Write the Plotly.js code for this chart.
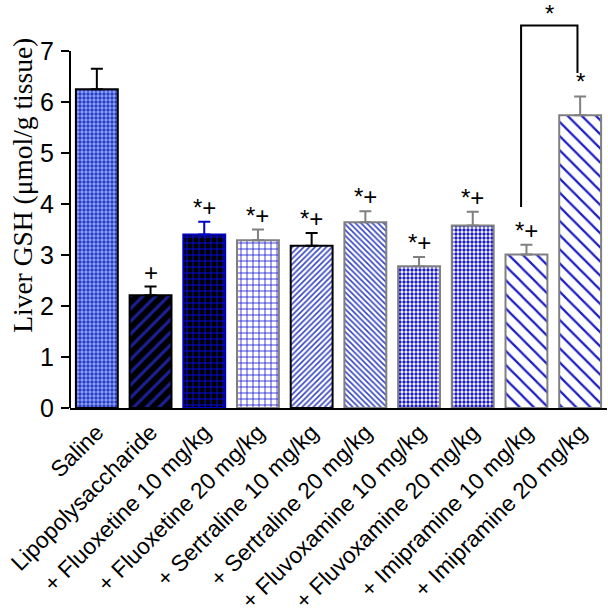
<!DOCTYPE html>
<html>
<head>
<meta charset="utf-8">
<script src="https://cdn.plot.ly/plotly-3.0.1.min.js"></script>
<style>
  html, body { margin: 0; padding: 0; background: #ffffff; }
  #chart { width: 608px; height: 616px; }
</style>
</head>
<body>
<div id="chart"></div>
<script>
// ---- data ----
const categories = [
  "Saline",
  "Lipopolysaccharide",
  "+ Fluoxetine 10 mg/kg",
  "+ Fluoxetine 20 mg/kg",
  "+ Sertraline 10 mg/kg",
  "+ Sertraline 20 mg/kg",
  "+ Fluvoxamine 10 mg/kg",
  "+ Fluvoxamine 20 mg/kg",
  "+ Imipramine 10 mg/kg",
  "+ Imipramine 20 mg/kg"
];
const gshValues = [6.25, 2.21, 3.40, 3.29, 3.18, 3.64, 2.78, 3.58, 3.01, 5.74];
const gshSem    = [0.40, 0.17, 0.25, 0.21, 0.25, 0.22, 0.18, 0.27, 0.19, 0.37];
const sigLabels = ["", "+", "*+", "*+", "*+", "*+", "*+", "*+", "*+", "*"];
const yTickValues = [0, 1, 2, 3, 4, 5, 6, 7];
// comparison bracket: Imipramine 10 vs Imipramine 20
const bracketPair = [8, 9];
const bracketLevels = { left: 3.94, top: 7.5, right: 6.57 };
const bracketLabel = "*";

// ---- styles (per bar) ----
const styles = [
  { shape: ".",  fg: "#2b3fc4", bg: "#8fa5fa", size: 4,  sol: 0.55, line: "#000000" },
  { shape: "/",  fg: "#1c1f96", bg: "#000000", size: 9,  sol: 0.35, line: "#000000" },
  { shape: "+",  fg: "#0a0ae6", bg: "#000000", size: 6,  sol: 0.3,  line: "#0000c8" },
  { shape: "+",  fg: "#1414d2", bg: "#ffffff", size: 6,  sol: 0.25, line: "#808080" },
  { shape: "/",  fg: "#3545c0", bg: "#ffffff", size: 4,  sol: 0.4,  line: "#000000" },
  { shape: "\\", fg: "#3545c0", bg: "#ffffff", size: 4,  sol: 0.4,  line: "#808080" },
  { shape: ".",  fg: "#1a1ac8", bg: "#ffffff", size: 4,  sol: 0.55, line: "#808080" },
  { shape: ".",  fg: "#1a1ac8", bg: "#ffffff", size: 4,  sol: 0.55, line: "#808080" },
  { shape: "\\", fg: "#1e1ec4", bg: "#ffffff", size: 10, sol: 0.22, line: "#808080" },
  { shape: "\\", fg: "#1e1ec4", bg: "#ffffff", size: 10, sol: 0.22, line: "#808080" }
];

const traces = categories.map((c, i) => ({
  type: "bar",
  x: [c],
  y: [gshValues[i]],
  width: 0.78,
  marker: {
    color: styles[i].bg,
    line: { color: styles[i].line, width: 2 },
    pattern: {
      shape: styles[i].shape,
      fgcolor: styles[i].fg,
      bgcolor: styles[i].bg,
      size: styles[i].size,
      solidity: styles[i].sol,
      fillmode: "replace"
    }
  },
  error_y: {
    type: "data",
    symmetric: false,
    array: [gshSem[i]],
    arrayminus: [0],
    color: styles[i].line,
    thickness: 2,
    width: 6
  },
  showlegend: false,
  hoverinfo: "x+y"
}));

const annotations = categories.map((c, i) => ({
  x: c,
  y: gshValues[i] + gshSem[i],
  xref: "x",
  yref: "y",
  text: sigLabels[i],
  showarrow: false,
  yanchor: "bottom",
  yshift: -1,
  font: { family: "Liberation Sans, Arial, sans-serif", size: 24, color: "#000000" }
})).filter(a => a.text !== "");

annotations.push({
  x: (bracketPair[0] + bracketPair[1]) / 2 - 0.07,
  y: bracketLevels.top,
  xref: "x",
  yref: "y",
  text: bracketLabel,
  showarrow: false,
  yanchor: "bottom",
  yshift: -3,
  font: { family: "Liberation Sans, Arial, sans-serif", size: 24, color: "#000000" }
});

annotations.push({
  x: -0.09,
  y: 4.37,
  xref: "paper",
  yref: "y",
  text: "Liver GSH (μmol/g tissue)",
  textangle: -90,
  showarrow: false,
  xanchor: "center",
  yanchor: "middle",
  font: { family: "Liberation Serif, Times New Roman, serif", size: 27.5, color: "#000000" }
});

const shapes = [
  // y axis line, drawn only between 0 and 7
  { type: "line", xref: "paper", yref: "y", x0: 0, x1: 0, y0: 0, y1: yTickValues[yTickValues.length - 1],
    line: { color: "#000000", width: 2 } },
  // bracket
  { type: "path", xref: "x", yref: "y",
    path: "M " + (bracketPair[0] - 0.1) + "," + bracketLevels.left +
          " L " + (bracketPair[0] - 0.1) + "," + bracketLevels.top +
          " L " + (bracketPair[1] - 0.05) + "," + bracketLevels.top +
          " L " + (bracketPair[1] - 0.05) + "," + bracketLevels.right,
    line: { color: "#000000", width: 2 } }
];

const layout = {
  width: 608,
  height: 616,
  margin: { l: 70, r: 1, t: 0, b: 208, pad: 0 },
  paper_bgcolor: "#ffffff",
  plot_bgcolor: "#ffffff",
  barmode: "overlay",
  showlegend: false,
  font: { family: "Liberation Sans, Arial, sans-serif", color: "#000000" },
  xaxis: {
    type: "category",
    categoryorder: "array",
    categoryarray: categories,
    range: [-0.5, categories.length - 0.5],
    showline: true,
    linecolor: "#000000",
    linewidth: 2,
    ticks: "",
    tickangle: -45,
    tickfont: { family: "Liberation Sans, Arial, sans-serif", size: 22.8, color: "#000000" },
    showgrid: false,
    zeroline: false,
    fixedrange: true
  },
  yaxis: {
    range: [0, 8],
    tickvals: yTickValues,
    ticktext: yTickValues.map(String),
    ticks: "outside",
    ticklen: 8,
    tickwidth: 2,
    tickcolor: "#000000",
    ticklabelstandoff: 2,
    showline: false,
    showgrid: false,
    zeroline: false,
    tickfont: { family: "Liberation Sans, Arial, sans-serif", size: 25, color: "#000000" },
    fixedrange: true
  },
  annotations: annotations,
  shapes: shapes
};

Plotly.newPlot("chart", traces, layout, { displayModeBar: false, staticPlot: true });
</script>
</body>
</html>
